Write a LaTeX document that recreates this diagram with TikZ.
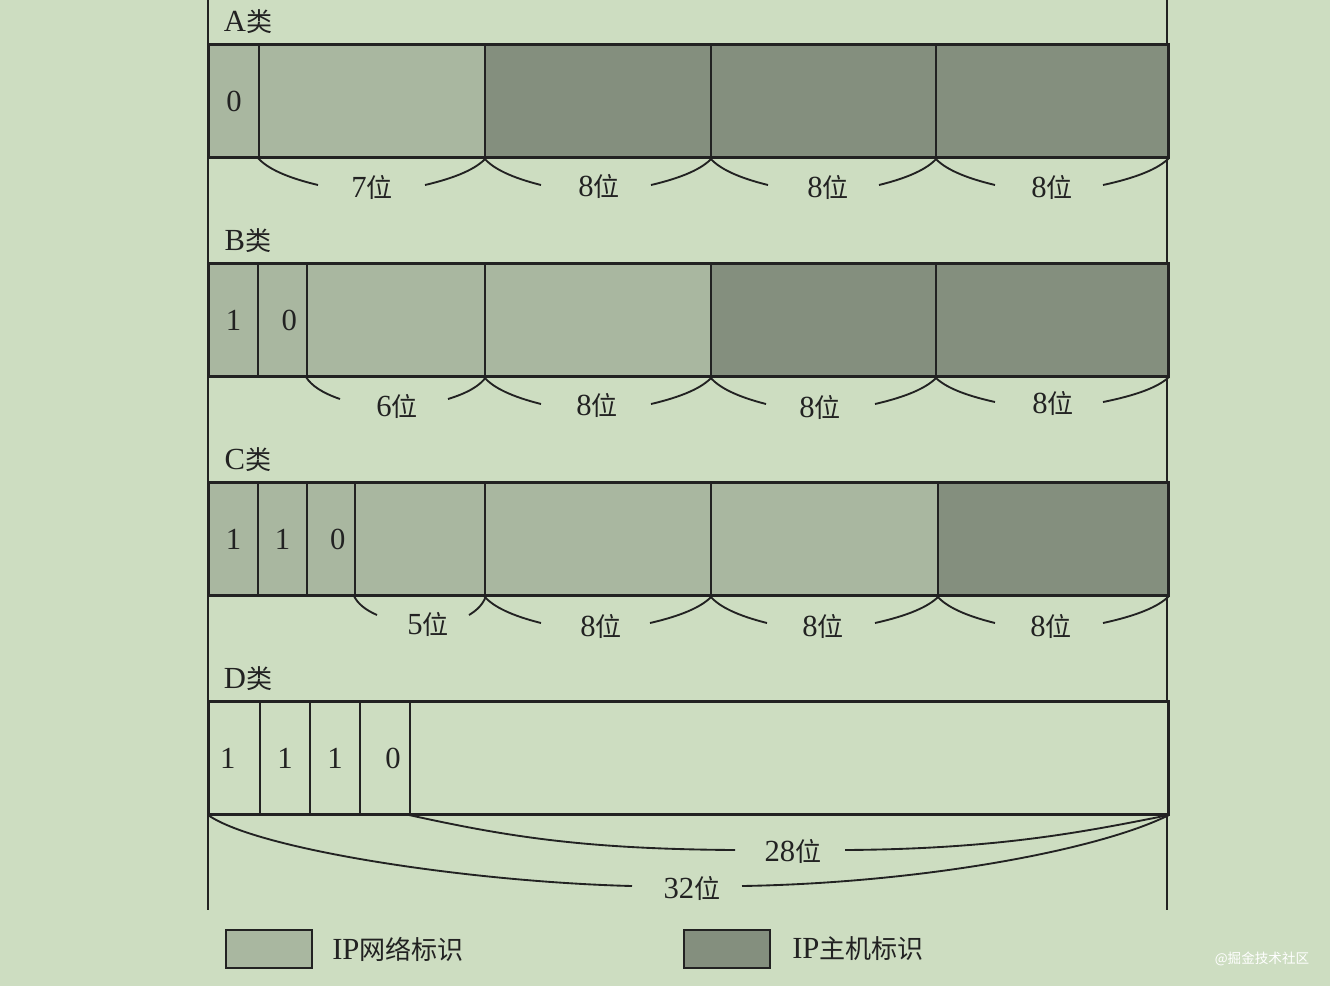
\documentclass[tikz,border=0pt]{standalone}
\usepackage{fontspec}
\setmainfont{Liberation Serif}
\newfontfamily\cjk{Noto Sans CJK SC}[Scale=0.85]
\newcommand\wei{{\cjk 位}}
\definecolor{bgc}{HTML}{CDDDC1}
\definecolor{netc}{HTML}{A9B7A0}
\definecolor{hostc}{HTML}{848F7E}
\definecolor{ink}{HTML}{222222}
\tikzset{
  cellst/.style={draw=ink, line width=1.5pt, inner sep=0pt, font=\fontsize{23}{23}\selectfont, text=ink},
  outerst/.style={draw=ink, line width=2.2pt},
  lbl/.style={inner sep=0pt, font=\fontsize{23}{23}\selectfont, text=ink},
  brc/.style={draw=ink, line width=1.4pt},
  guide/.style={draw=ink, line width=0.8pt},
}
\newcommand\cellbox[6]{%
  \node[cellst, fill=#5, minimum width={(#3-#2)*0.75pt}, minimum height={112*0.75pt}, anchor=north west] (#1) at (#2,#4) {#6};}
% name, cell, text, label pos, left dx, right dx, dy
\newcommand\bitbrace[7]{%
  \node[lbl] (#1) at (#4) {#3};
  \pgfmathsetmacro\bla{0.16*#5}\pgfmathsetmacro\blb{-0.51*#5}%
  \pgfmathsetmacro\bra{-0.16*#6}\pgfmathsetmacro\brb{0.51*#6}%
  \pgfmathsetmacro\bya{0.4*#7}\pgfmathsetmacro\byb{-0.27*#7}%
  \coordinate (#1l) at ([shift={(#5,#7)}]#2.south west);
  \coordinate (#1r) at ([shift={(-#6,#7)}]#2.south east);
  \draw[brc] (#2.south west) .. controls +(\bla,\bya) and +(\blb,\byb) .. (#1l);
  \draw[brc] (#2.south east) .. controls +(\bra,\bya) and +(\brb,\byb) .. (#1r);}
\begin{document}
\begin{tikzpicture}[x=0.75pt,y=-0.75pt]
\fill[bgc] (0,0) rectangle (1330,986);
\useasboundingbox (0,0) rectangle (1330,986);
% guide lines
\coordinate (gl1) at (208,0); \coordinate (gl2) at (208,910);
\coordinate (gr1) at (1167,0); \coordinate (gr2) at (1167,910);
\draw[guide] (gl1) -- (gl2);
\draw[guide] (gr1) -- (gr2);
% class labels
\node[lbl] (tA) at (248,22) {A{\cjk 类}};
\node[lbl] (tB) at (248,241) {B{\cjk 类}};
\node[lbl] (tC) at (248,460) {C{\cjk 类}};
\node[lbl] (tD) at (248,679) {D{\cjk 类}};
% Row A
\cellbox{a1}{208}{258}{44}{netc}{0}
\cellbox{a2}{258}{484}{44}{netc}{}
\cellbox{a3}{484}{710}{44}{hostc}{}
\cellbox{a4}{710}{935}{44}{hostc}{}
\cellbox{a5}{935}{1167}{44}{hostc}{}
\draw[outerst] (a1.north west) rectangle (a5.south east);
\bitbrace{la2}{a2}{7\wei}{372,187}{60}{61}{27}
\bitbrace{la3}{a3}{8\wei}{599,186}{57}{61}{27}
\bitbrace{la4}{a4}{8\wei}{828,187}{58}{58}{27}
\bitbrace{la5}{a5}{8\wei}{1052,187}{60}{66}{27}
% Row B
\cellbox{b1}{208}{257}{263}{netc}{1}
\cellbox{b2}{257}{306}{263}{netc}{\hspace{10pt}0}
\cellbox{b3}{306}{484}{263}{netc}{}
\cellbox{b4}{484}{710}{263}{netc}{}
\cellbox{b5}{710}{935}{263}{hostc}{}
\cellbox{b6}{935}{1167}{263}{hostc}{}
\draw[outerst] (b1.north west) rectangle (b6.south east);
\bitbrace{lb3}{b3}{6\wei}{397,406}{34}{38}{22}
\bitbrace{lb4}{b4}{8\wei}{597,405}{57}{61}{27}
\bitbrace{lb5}{b5}{8\wei}{820,407}{56}{62}{27}
\bitbrace{lb6}{b6}{8\wei}{1053,403}{60}{66}{25}
% Row C
\cellbox{c1}{208}{257}{482}{netc}{1}
\cellbox{c2}{257}{306}{482}{netc}{1}
\cellbox{c3}{306}{354}{482}{netc}{\hspace{10pt}0}
\cellbox{c4}{354}{484}{482}{netc}{}
\cellbox{c5}{484}{710}{482}{netc}{}
\cellbox{c6}{710}{937}{482}{netc}{}
\cellbox{c7}{937}{1167}{482}{hostc}{}
\draw[outerst] (c1.north west) rectangle (c7.south east);
\bitbrace{lc4}{c4}{5\wei}{428,624}{23}{17}{19}
\bitbrace{lc5}{c5}{8\wei}{601,626}{57}{62}{27}
\bitbrace{lc6}{c6}{8\wei}{823,626}{57}{64}{27}
\bitbrace{lc7}{c7}{8\wei}{1051,626}{58}{66}{27}
% Row D
\cellbox{d1}{208}{259}{701}{bgc}{\hspace{-10pt}1}
\cellbox{d2}{259}{309}{701}{bgc}{1}
\cellbox{d3}{309}{359}{701}{bgc}{1}
\cellbox{d4}{359}{409}{701}{bgc}{\hspace{12pt}0}
\cellbox{d5}{409}{1167}{701}{bgc}{}
\draw[outerst] (d1.north west) rectangle (d5.south east);
\node[lbl] (l28) at (793,851) {28\wei};
\node[lbl] (l32) at (692,888) {32\wei};
\draw[brc] (d5.south west) .. controls +(100,22) and +(-150,-1) .. ([shift={(-58,-1)}]l28.center);
\draw[brc] (d5.south east) .. controls +(-90,18) and +(150,-1) .. ([shift={(52,-1)}]l28.center);
\draw[brc] (d1.south west) .. controls +(50,35) and +(-160,-4) .. ([shift={(-60,-2)}]l32.center);
\draw[brc] (d5.south east) .. controls +(-70,35) and +(180,-3) .. ([shift={(50,-2)}]l32.center);
% legend
\node[draw=ink, line width=1.8pt, fill=netc, minimum width={86*0.75pt}, minimum height={38*0.75pt}, inner sep=0pt] (lg1) at (269,949) {};
\node[lbl, anchor=west] (lt1) at (332,949) {IP{\cjk 网络标识}};
\node[draw=ink, line width=1.8pt, fill=hostc, minimum width={86*0.75pt}, minimum height={38*0.75pt}, inner sep=0pt] (lg2) at (727,949) {};
\node[lbl, anchor=west] (lt2) at (792,949) {IP{\cjk 主机标识}};
\node[inner sep=0pt, text=white, font=\cjk\fontsize{12}{12}\selectfont] (wm) at (1262,959) {@掘金技术社区};
\end{tikzpicture}
\end{document}
